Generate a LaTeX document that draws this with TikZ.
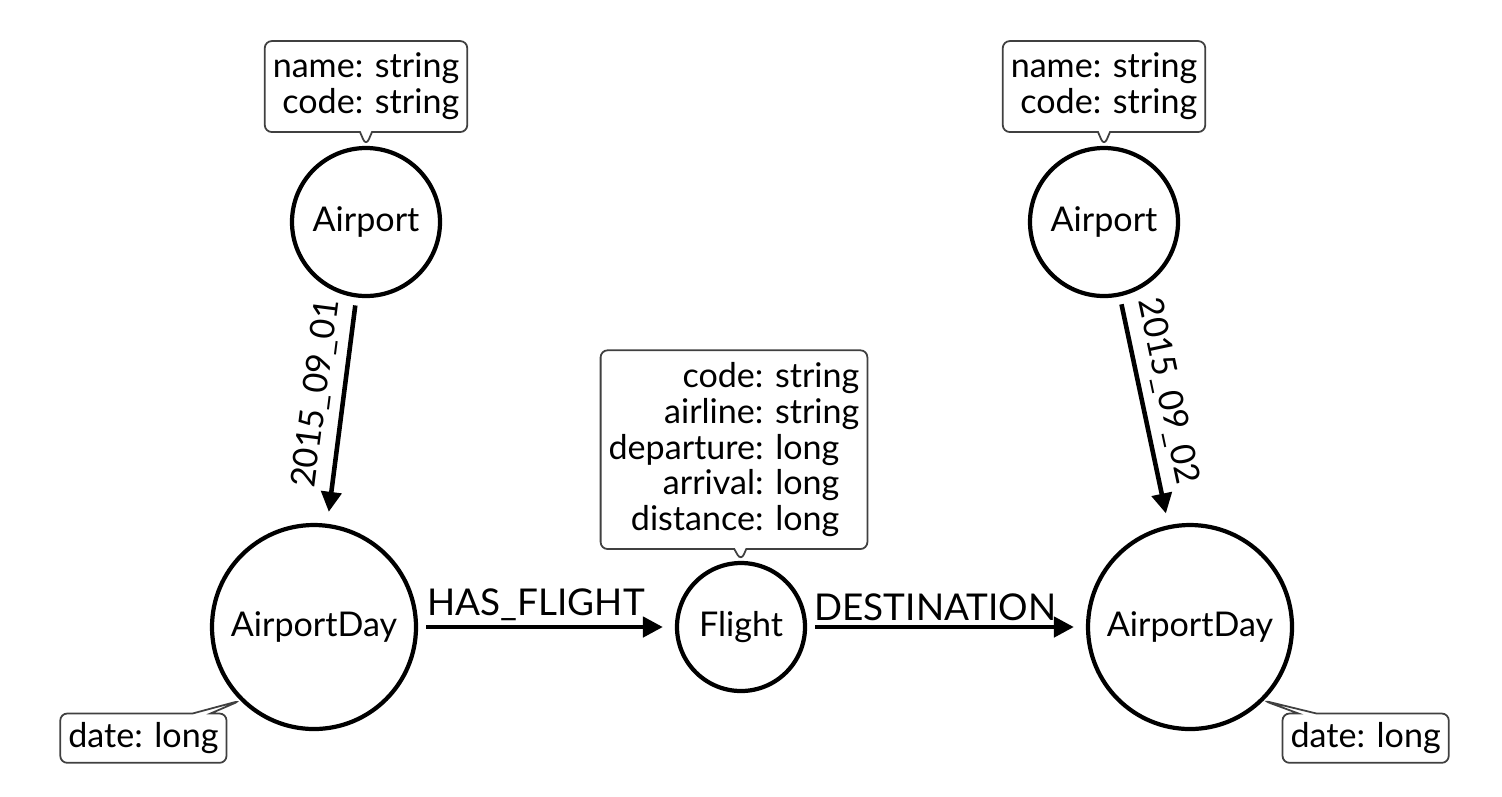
\documentclass[tikz,border=0pt]{standalone}
\usepackage{fontspec}
\setmainfont{Lato}
\usetikzlibrary{shapes, shapes.callouts, arrows.meta, positioning}

\begin{document}
\begin{tikzpicture}[node distance=4.27cm]

% Define block styles
\tikzstyle{entity} = [circle, draw=black, line width=1.2pt, inner sep=0pt, font=\fontsize{9.7}{10}\selectfont]
\tikzstyle{prop} = [rectangle callout, rounded corners=0.07cm, draw=black!75, line width=0.5pt, fill=white, align=right, inner xsep=0.08cm, inner ysep=0.12cm, callout pointer width=0.12cm, font=\fontsize{9.7}{10.2}\selectfont]
\tikzstyle{arrow} = [line width=1.3pt,->,>={Triangle[length=0.2cm,width=0.2cm]}, shorten >=0.12cm, shorten <=0.08cm]
\tikzstyle{rel} = [font=\fontsize{10.5}{12}\selectfont, inner sep=0.04cm]
\tikzstyle{datelabel} = [font=\fontsize{9.7}{10}\selectfont, inner sep=0.1cm]

\useasboundingbox (0,0) rectangle (15.02,-7.96);

% Define nodes
\node (dayA) [entity, minimum size=2.04cm] at (3.14,-6.27) {AirportDay};
\node (flight) [entity, minimum size=1.28cm, right of = dayA] {Flight};
\node (dayB) [entity, minimum size=2.04cm, right of = flight, xshift=0.22cm] {AirportDay};
\node (airportA) [entity, minimum size=1.48cm, node distance=4.05cm, above of = dayA, xshift=0.52cm] {Airport};
\node (airportB) [entity, minimum size=1.48cm, node distance=4.05cm, above of = dayB, xshift=-0.86cm] {Airport};

% Property callouts
\node (airportAprops) [prop, above=0.13cm of airportA, callout absolute pointer={(airportA.north)}] {name: string\\code: string};
\node (airportBprops) [prop, above=0.13cm of airportB, callout absolute pointer={(airportB.north)}] {name: string\\code: string};
\node (flightprops) [prop, above=0.11cm of flight, xshift=-0.07cm, callout absolute pointer={(flight.north)}] {code: string\\airline: string\\departure: long\rule{0.2cm}{0pt}\\arrival: long\rule{0.2cm}{0pt}\\distance: long\rule{0.2cm}{0pt}};
\node (dayAprops) [prop, inner ysep=0.09cm, callout pointer width=0.18cm, below left=0.12cm and 0.13cm of dayA, callout absolute pointer={(dayA.south west)}] {date: long};
\node (dayBprops) [prop, inner ysep=0.09cm, callout pointer width=0.18cm, below right=0.12cm and 0.18cm of dayB, callout absolute pointer={(dayB.south east)}] {date: long};

% Draw arrows
\draw [arrow] (airportA) -- node[datelabel, pos=0.44, above, sloped] {2015\_09\_01} (dayA);
\draw [arrow] (airportB) -- node[datelabel, pos=0.44, above, sloped] {2015\_09\_02} (dayB);
\draw [arrow] (dayA) -- node[rel, pos=0.46, above] {HAS\_FLIGHT} (flight);
\draw [arrow] (flight) -- node[rel, pos=0.46, above] {DESTINATION} (dayB);

\end{tikzpicture}
\end{document}
